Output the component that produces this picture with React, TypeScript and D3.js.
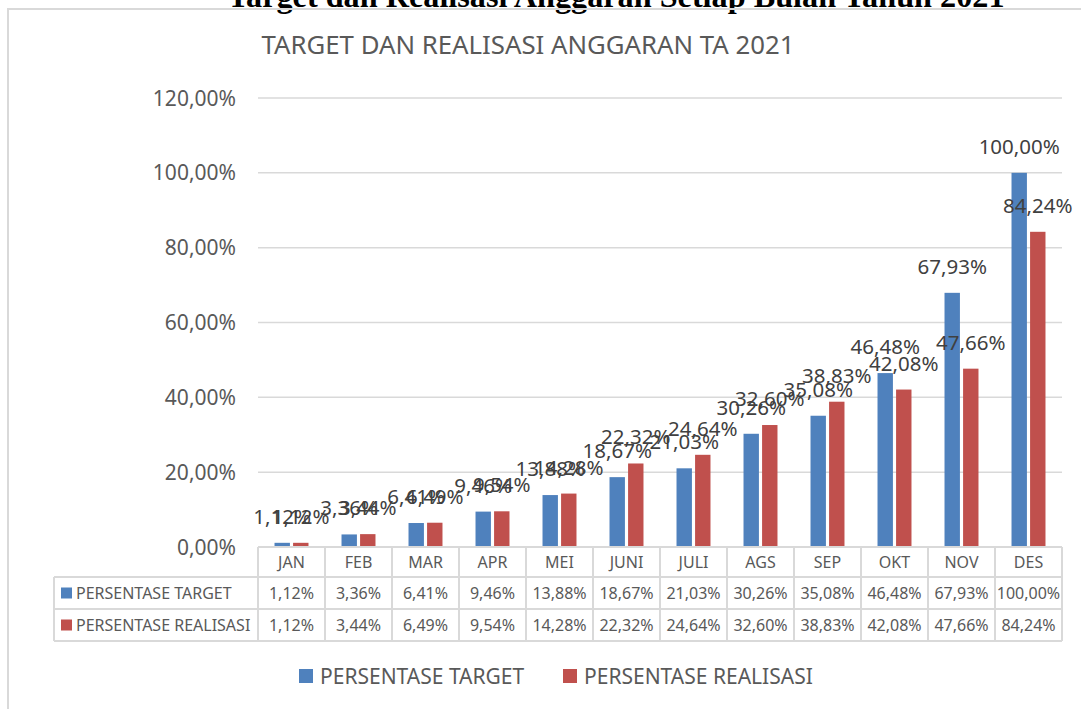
import React from "react";
import * as d3 from "d3";

const months = ["JAN", "FEB", "MAR", "APR", "MEI", "JUNI", "JULI", "AGS", "SEP", "OKT", "NOV", "DES"];
const targetValues = [1.12, 3.36, 6.41, 9.46, 13.88, 18.67, 21.03, 30.26, 35.08, 46.48, 67.93, 100.0];
const realisasiValues = [1.12, 3.44, 6.49, 9.54, 14.28, 22.32, 24.64, 32.6, 38.83, 42.08, 47.66, 84.24];
const seriesNames = ["PERSENTASE TARGET", "PERSENTASE REALISASI"];
const seriesColors = ["#4F81BD", "#C0504D"];
const yTicks = [0, 20, 40, 60, 80, 100, 120];
const docTitle = "Target dan Realisasi Anggaran Setiap Bulan Tahun 2021";
const chartTitle = "TARGET DAN REALISASI ANGGARAN TA 2021";

const locale = d3.formatLocale({ decimal: ",", thousands: ".", grouping: [3], currency: ["", ""] });
const fmt = (v: number) => locale.format(".2f")(v) + "%";

export default function App() {
  const W = 1081;
  const H = 709;
  const plotLeft = 258;
  const plotRight = 1062;
  const plotTop = 98;
  const plotBottom = 547;
  const tableLeft = 54;
  const rowY = [547, 577, 609, 641];
  const font = "'Noto Sans', 'Open Sans', sans-serif";
  const grid = "#D9D9D9";
  const series = [targetValues, realisasiValues];

  const x = d3.scaleBand<string>().domain(months).range([plotLeft, plotRight]).paddingInner(0).paddingOuter(0);
  const y = d3.scaleLinear().domain([0, 120]).range([plotBottom, plotTop]);
  const groupW = x.bandwidth() * 0.507;
  const xs = d3.scaleBand<number>().domain([0, 1]).range([0, groupW]).paddingInner(0.17);
  const groupOffset = (x.bandwidth() - groupW) / 2;

  return (
    <svg width={W} height={H} style={{ position: "fixed", left: 0, top: 0, background: "#fff" }}>
      <rect x={0} y={0} width={W} height={H} fill="#fff" />
      {/* document heading (cut off) */}
      <text
        x={616}
        y={7}
        textAnchor="middle"
        fontFamily="'Liberation Serif', 'Times New Roman', serif"
        fontWeight="bold"
        fontSize={32}
        fill="#000"
        textLength={777}
        lengthAdjust="spacingAndGlyphs"
      >
        {docTitle}
      </text>
      {/* chart frame */}
      <rect x={8} y={9} width={W + 20} height={H + 20} fill="none" stroke={grid} strokeWidth={2} />
      {/* chart title */}
      <text x={528} y={54} textAnchor="middle" fontFamily={font} fontSize={25} fill="#595959" textLength={533} lengthAdjust="spacingAndGlyphs">
        {chartTitle}
      </text>
      {/* gridlines */}
      {yTicks.filter((t) => t > 0).map((t) => (
        <line key={t} x1={plotLeft} x2={plotRight} y1={y(t)} y2={y(t)} stroke={grid} strokeWidth={1.5} />
      ))}
      {/* y tick labels */}
      {yTicks.map((t) => (
        <text key={t} x={236} y={y(t)} dy="0.36em" textAnchor="end" fontFamily={font} fontSize={21} fill="#595959">
          {fmt(t)}
        </text>
      ))}
      {/* bars */}
      {series.map((vals, si) =>
        vals.map((v, i) => (
          <rect
            key={`b${si}-${i}`}
            x={(x(months[i]) as number) + groupOffset + (xs(si) as number)}
            y={y(v)}
            width={xs.bandwidth()}
            height={y(0) - y(v)}
            fill={seriesColors[si]}
          />
        ))
      )}
      {/* data labels */}
      {series.map((vals, si) =>
        vals.map((v, i) => (
          <text
            key={`l${si}-${i}`}
            x={(x(months[i]) as number) + groupOffset + (xs(si) as number) + xs.bandwidth() / 2}
            y={y(v) - 19}
            textAnchor="middle"
            fontFamily={font}
            fontSize={20.5}
            fill="#404040"
          >
            {fmt(v)}
          </text>
        ))
      )}
      {/* data table */}
      <g stroke={grid} strokeWidth={2} fill="none">
        <line x1={plotLeft} x2={plotRight} y1={rowY[0]} y2={rowY[0]} />
        {rowY.slice(1).map((ry) => (
          <line key={ry} x1={tableLeft} x2={plotRight} y1={ry} y2={ry} />
        ))}
        <line x1={tableLeft} x2={tableLeft} y1={rowY[1]} y2={rowY[3]} />
        {months.map((m) => (
          <line key={m} x1={x(m)} x2={x(m)} y1={rowY[0]} y2={rowY[3]} />
        ))}
        <line x1={plotRight} x2={plotRight} y1={rowY[0]} y2={rowY[3]} />
      </g>
      {months.map((m) => (
        <text
          key={m}
          x={(x(m) as number) + x.bandwidth() / 2}
          y={(rowY[0] + rowY[1]) / 2}
          dy="0.36em"
          textAnchor="middle"
          fontFamily={font}
          fontSize={16}
          fill="#595959"
        >
          {m}
        </text>
      ))}
      {series.map((vals, si) => {
        const cy = (rowY[si + 1] + rowY[si + 2]) / 2;
        return (
          <g key={`row${si}`}>
            <rect x={61} y={cy - 5.5} width={11} height={11} fill={seriesColors[si]} />
            <text x={76} y={cy} dy="0.36em" fontFamily={font} fontSize={16} fill="#595959">
              {seriesNames[si]}
            </text>
            {vals.map((v, i) => (
              <text
                key={i}
                x={(x(months[i]) as number) + x.bandwidth() / 2}
                y={cy}
                dy="0.36em"
                textAnchor="middle"
                fontFamily={font}
                fontSize={16}
                fill="#595959"
              >
                {fmt(v)}
              </text>
            ))}
          </g>
        );
      })}
      {/* legend */}
      {[299, 563].map((lx, si) => (
        <g key={`lg${si}`}>
          <rect x={lx} y={669} width={14} height={14} fill={seriesColors[si]} />
          <text x={lx + 21} y={676} dy="0.36em" fontFamily={font} fontSize={21} fill="#595959">
            {seriesNames[si]}
          </text>
        </g>
      ))}
    </svg>
  );
}
